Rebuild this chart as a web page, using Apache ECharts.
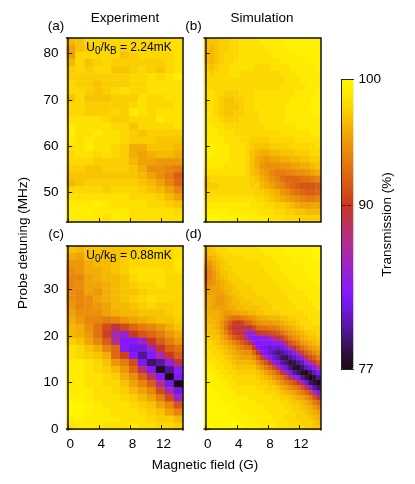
<!DOCTYPE html>
<html><head><meta charset="utf-8">
<style>html,body{margin:0;padding:0;background:#fff}#c{width:415px;height:484px}</style>
<script src="https://cdn.jsdelivr.net/npm/echarts@6/dist/echarts.min.js"></script>
</head><body><div id="c"></div>
<script>
const fieldTicks=[0,4,8,12];
const detuningTicksHigh=[50,60,70,80];
const detuningTicksLow=[0,10,20,30];
const colorbarTicks=[77,90,100];
const colorScale=['#1a0a10','#2a0f30','#3c1460','#4f1690','#6216bc','#7418e4','#8518ff','#8f1ee8','#9a24cc','#a52ab0','#b03090','#b83070','#c03448','#c83820','#d24c18','#da5e14','#e27210','#e8860c','#ed9808','#f2ae04','#f8c400','#fcd800','#ffea00','#fff600'];
const expHigh=[
[96.5,97,98,98,98,98,98,98,98,98,98,98.5,98.5],
[95.5,97,97.5,98,98,98,97.5,98,98,98,98,98.5,98.5],
[95.5,98,98,98,98,98,97,97.5,98,98,98,98,98.5],
[96.5,98,97,97.5,98,97.5,97.5,97.5,97.5,97.5,97.5,98,98.5],
[97.5,98,97.5,98,98,97,97,97.5,98,97.5,97,98,98.5],
[97.5,97.5,97.5,97.5,97.5,97.5,97.5,98,98,98.5,98,98.5,99.5],
[98,97.5,97.5,97,97.5,97.5,97.5,98,98,98.5,98.5,98.5,98.5],
[98,98,97.5,97,97.5,98,98.5,98,98,98.5,98.5,98.5,98.5],
[97,98,97,97,97,97.5,97.5,97.5,98.5,98,98,98.5,98.5],
[98,98,97.5,97.5,97.5,97.5,97.5,98,98.5,98,98,98,98.5],
[98,98,97.5,97.5,97.5,98,97.5,99,98.5,98,98.5,98.5,98.5],
[98.5,98.5,98.5,98.5,98,97.5,97.5,98,98,98,99,98.5,98.5],
[99,98.5,98.5,98.5,98.5,98,98,97,98,98,98,98,98.5],
[99.5,98.5,98.5,99,98.5,98.5,98,97.5,97,97.5,97.5,97.5,97.5],
[99,98.5,99,98.5,98.5,98.5,98,97.5,97.5,97.5,97,97,97],
[98.5,98.5,99,98.5,98.5,98,97.5,96,96,97,97,97,96.5],
[98,98.5,98.5,98,98.5,98,97.5,96,95.5,96,96.5,96.5,96],
[98,98,98,97.5,97.5,97.5,97.5,96.5,95.5,95.5,95,95,95],
[97.5,97.5,97,97,97.5,97.5,97.5,97,96,94.5,94.5,94,93.5],
[97,97,97,97,97,97,97,97,96.5,95.5,94.5,93.5,92],
[96.5,97,97.5,97.5,97.5,97.5,97.5,97.5,97,96.5,95.5,94,92.5],
[98,98,98,98,97.5,98,98,98,97.5,97,96.5,95.5,94],
[98.5,98.5,98.5,98.5,98.5,98.5,98.5,98,98,98,97.5,96.5,95.5],
[99,99,99,99.5,99,98.5,98.5,98.5,98.5,98,98,97.5,97],
[99.5,99.5,99.5,99,99,99,99,98.5,98.5,98.5,98.5,98.5,98],
[99,99,99,99,98.5,99.5,99,98.5,98.5,98.5,98.5,98.5,98.5]];
const expLow=[
[97,96.5,97,97,97,97,97,97.5,97.5,98,98,98,98.5],
[96,95.5,97,97,97,97,97.5,97.5,98,98,98,98,98.5],
[95,95,96,96.5,96.5,97,97.5,98,98,98,98,98,99],
[94.5,95,96,96,96.5,97,97.5,98.5,98.5,98.5,98.5,98,98.5],
[94,94,95.5,96,96.5,96.5,97,98,98.5,98.5,98.5,98,98],
[94,94.5,95.5,95.5,96,96.5,97,97.5,98,98,98.5,98,98],
[94.5,94,95.5,95,96,96.5,97,97,97.5,98,98,98,98],
[94.5,94,94.5,95.5,96,96.5,97,97.5,98,98.5,98,98,98],
[95,94,94.5,95,95.5,96.5,96.5,97,97.5,98,97.5,97.5,98],
[95.5,94.5,94.5,94.5,95.5,96,96.5,96.5,97,97,97,97.5,98],
[96,95,94,94,93.5,94,95,95.5,96,96.5,97,97,97.5],
[96.5,96,94.5,93,91,89,91,92.5,93.5,94,95,96,97],
[96.5,96,95,93,90.5,86,85,90,91.5,92.5,93.5,95,96],
[97.5,97,95.5,94,92,87,83,83,85,90,92,93.5,95],
[98.5,98,97,96,94,92.5,83,82,82,85,89.5,92,93],
[98.5,98,97.5,97,96,92.5,90.5,83,80,83,86,90,92],
[99,99,98.5,98,97,95,93.5,91,82.5,79,80.5,84,89],
[99,99,98.5,98,97.5,96.5,95,92.5,88,83,77.5,80,83.5],
[99,99,98.5,98.5,98,97.5,96,94.5,92,88.5,83,77,82.5],
[99,99,98.5,98.5,98,98,97,95.5,94,92,87,82.5,77],
[99,99,99,98.5,98.5,98,97.5,96.5,95.5,94,91,86,82],
[99.5,99.5,99,98.5,98.5,98.5,98,97.5,96.5,95.5,93.5,91,85],
[100,100,99.5,99,98.5,98.5,98.5,98,97.5,97,95.5,94,91.5],
[100,100,99.5,99,99,98.5,98.5,98.5,98,97.5,97,95.5,94],
[99,99.5,99,99,99,99,98.5,98.5,98.5,98,97.5,97.5,96.5],
[98.5,99,99,99,98.5,98.5,98.5,99,98.5,98.5,98,98,97.5]];
const simHigh=[
[97,97,97,97.5,97.5,98,98,98.5,98.5,98.5,98.5,99,99,99,99,99.5,99.5,99.5,99.5,99.5,99.5,99.5,99.5],
[97,96.5,97,97.5,97.5,98,98,98.5,98.5,98.5,98.5,98.5,99,99,99,99,99.5,99.5,99.5,99.5,99.5,99.5,99.5],
[97,96.5,97,97.5,98,98,98,98.5,98.5,98.5,98.5,98.5,98.5,99,99,99,99,99,99.5,99.5,99.5,99.5,99.5],
[97,96.5,97,97.5,98,98,98.5,98.5,98.5,98.5,98.5,98.5,98.5,98.5,98.5,99,99,99,99,99,99.5,99.5,99.5],
[97.5,97,97.5,98,98,98.5,98.5,98.5,98.5,98.5,98,98,98,98.5,98.5,98.5,98.5,99,99,99,99,99,99.5],
[98,97.5,98,98,98,98.5,98.5,98,98,98,98,98,98,98,98,98.5,98.5,98.5,99,99,99,99,99],
[98,98,98,98,98,98,98,98,98,98,98,98,98,98,98,98,98.5,98.5,98.5,99,99,99,99],
[98.5,98,98,98,98,98,98,98,98,98,98,98,98,98,98,98.5,98.5,98.5,98.5,98.5,99,99,99],
[98.5,98.5,98,98,97.5,97.5,97.5,98,98,98,98.5,98.5,98.5,98.5,98.5,98.5,98.5,98.5,99,99,99,99,99.5],
[98.5,98.5,98,97.5,97,97,97.5,97.5,98,98,98.5,98.5,98.5,98.5,98.5,98.5,98.5,99,99,99,99,99.5,99.5],
[98.5,98.5,98,97.5,97,97,97,97.5,98,98,98.5,98.5,98.5,98.5,98.5,98.5,99,99,99,99,99,99.5,99.5],
[99,98.5,98,97.5,97,97,97.5,97.5,98,98,98,98.5,98.5,98.5,98.5,98.5,99,99,99,99,99,99,99.5],
[99,98.5,98.5,98,97.5,97.5,97.5,98,98,98,98,98.5,98.5,98.5,98.5,98.5,99,99,99,99,99,99,99],
[99,99,98.5,98.5,98,98,98,98,98,98,98,98,98.5,98.5,98.5,98.5,98.5,98.5,99,99,99,99,99],
[99,99,99,98.5,98.5,98.5,98,98,98,98,98,98,98,98,98,98.5,98.5,98.5,98.5,98.5,98.5,99,99],
[99.5,99,99,99,98.5,98.5,98.5,98,98,97.5,97.5,97.5,97.5,98,98,98,98,98,98.5,98.5,98.5,98.5,98.5],
[99.5,99.5,99,99,99,98.5,98.5,98.5,98,97.5,97,97,97,97.5,97.5,97.5,97.5,98,98,98,98,98,98.5],
[99.5,99.5,99,99,99,98.5,98.5,98.5,98,97,96.5,96,96,96.5,96.5,97,97,97,97.5,97.5,97.5,98,98],
[99.5,99,99,99,99,98.5,98.5,98.5,98,97,96,95.5,95,95.5,95.5,96,96,96.5,96.5,97,97,97.5,97.5],
[99,99,99,99,98.5,98.5,98.5,98.5,98,97,96,95,94.5,94.5,94.5,95,95,95.5,95.5,96,96,96.5,97],
[98.5,98.5,98.5,98.5,98.5,98.5,98.5,98.5,98,97,96.5,95.5,95,94,93.5,93.5,94,94,94.5,94.5,95,95.5,96],
[97.5,98,98,98,98,98,98,98,98,97.5,97,96,95.5,94.5,94,93,92.5,92.5,92.5,93,93,93.5,94],
[97,97.5,97.5,98,98,98,98,98,98,97.5,97.5,96.5,96,95.5,94.5,94,93,92.5,92,91.5,91.5,91.5,92],
[98,98,98,98,98,98,98,98,98,98,97.5,97.5,97,96.5,96,95,94.5,93.5,93,92.5,92,92,92.5],
[98.5,98.5,98.5,98.5,98.5,98.5,98.5,98.5,98.5,98.5,98,98,97.5,97,96.5,96,95.5,95,94.5,94,93.5,93.5,94],
[99,99,99,99,99,99,99,99,99,98.5,98.5,98.5,98,98,97.5,97.5,97,96.5,96,95.5,95.5,95.5,95.5],
[99.5,99.5,99.5,99.5,99.5,99,99,99,99,99,99,98.5,98.5,98.5,98,98,97.5,97.5,97,97,96.5,96.5,96.5],
[100,100,100,99.5,99.5,99.5,99.5,99.5,99.5,99,99,99,99,98.5,98.5,98.5,98,98,98,97.5,97.5,97.5,97.5]];
const simLow=[
[97,97,97.5,98,98,98,98.5,98.5,98.5,98.5,98.5,98.5,98.5,98.5,99,99,99,99,99,99.5,99.5,99.5,99.5,99.5,99.5,99.5,100,100,100],
[96.5,97,97,97.5,98,98,98,98.5,98.5,98.5,98.5,98.5,98.5,98.5,98.5,99,99,99,99,99,99.5,99.5,99.5,99.5,99.5,99.5,99.5,100,100],
[96,96,96.5,97,97.5,98,98,98,98,98,98.5,98.5,98.5,98.5,98.5,98.5,98.5,99,99,99,99,99,99.5,99.5,99.5,99.5,99.5,100,100],
[95,95,96,96.5,97,97.5,98,98,98,98,98,98,98,98,98.5,98.5,98.5,98.5,99,99,99,99,99,99,99.5,99.5,99.5,99.5,99.5],
[94,94.5,95.5,96.5,97,97.5,97.5,98,98,98,98,98,98,98,98,98.5,98.5,98.5,98.5,99,99,99,99,99,99,99.5,99.5,99.5,99.5],
[93.5,94,95,96,97,97,97.5,97.5,98,98,98,98,98,98,98,98,98.5,98.5,98.5,98.5,99,99,99,99,99,99,99.5,99.5,99.5],
[93.5,94,95,96,96.5,97,97.5,97.5,97.5,98,98,98,98,98,98,98,98,98.5,98.5,98.5,98.5,99,99,99,99,99,99.5,99.5,99.5],
[94,94.5,95,95.5,96,96.5,97,97.5,97.5,97.5,98,98,98,98,98,98,98,98,98.5,98.5,98.5,98.5,99,99,99,99,99,99,99.5],
[95,95,95.5,95.5,96,96.5,96.5,97,97.5,97.5,97.5,97.5,98,98,98,98,98,98,98,98.5,98.5,98.5,98.5,99,99,99,99,99,99],
[95.5,95.5,95.5,95.5,95.5,96,96.5,97,97,97.5,97.5,97.5,97.5,98,98,98,98,98,98,98,98.5,98.5,98.5,98.5,98.5,99,99,99,99],
[96,96,95.5,95,95,95.5,96,96.5,97,97,97.5,97.5,97.5,97.5,97.5,98,98,98,98,98,98,98.5,98.5,98.5,98.5,98.5,99,99,99],
[96,96,95.5,95,95,95.5,96,96.5,96.5,97,97,97,97.5,97.5,97.5,97.5,98,98,98,98,98,98,98.5,98.5,98.5,98.5,98.5,99,99],
[96,96,95.5,95.5,95.5,95.5,96,96,96.5,96.5,97,97,97,97,97.5,97.5,97.5,98,98,98,98,98,98,98.5,98.5,98.5,98.5,98.5,99],
[96.5,96,96,96,95.5,95,95,95.5,95.5,96,96,96.5,96.5,97,97,97.5,97.5,97.5,97.5,98,98,98,98,98,98,98.5,98.5,98.5,98.5],
[96.5,96.5,96,96,95.5,94.5,93.5,93,93,93.5,94,94.5,95,95.5,96,96,96.5,96.5,96.5,97,97,97.5,97.5,98,98,98,98.5,98.5,98.5],
[97,96.5,96.5,96,95,93.5,92,90.5,90,90.5,92,92.5,93.5,94.5,95,95,95,95.5,95.5,96,96.5,97,97,97.5,98,98,98,98.5,98.5],
[97,97,96.5,96,95,93,91,89.5,89,89.5,88.5,90,91,92.5,93,93,93.5,93.5,94,95,95.5,96,96.5,97,97.5,98,98,98,98],
[97.5,97,97,96.5,95.5,94,92,90.5,89.5,89.5,85.5,84.5,85.5,90,90.5,90.5,91,91.5,92,93,94,95,95.5,96,96.5,97,97.5,97.5,98],
[98,97.5,97,97,96,95,93.5,92,91,90.5,87,84,83.5,83.5,84.5,84.5,86,87.5,89,90.5,92,93.5,94.5,95,96,96.5,97,97,97.5],
[98,98,97.5,97,96.5,96,95,94,93,92,91,89,83.5,83,83,83,83,83.5,84,84.5,89.5,91.5,92.5,93.5,95,95.5,96,96.5,97],
[98.5,98,98,97.5,97,96.5,96,95.5,94.5,93.5,93,92.5,90,83.5,82.5,82,81.5,82,81.5,82,83,87,90,91.5,93,94,95,95.5,96],
[98.5,98.5,98,98,97.5,97,96.5,96,95.5,95,94.5,94.5,92.5,90,83.5,82.5,81.5,80.5,79.5,80,81,82,84,87.5,90.5,92,93,94,95],
[99,98.5,98.5,98,98,97.5,97,96.5,96,95.5,95.5,95.5,94.5,92.5,90.5,85.5,83,81.5,80.5,79,78.5,80,81,82.5,84.5,88.5,91,92,93.5],
[99,99,98.5,98.5,98,98,97.5,97,96.5,96.5,96.5,96.5,96,94.5,93,91.5,89,84,82.5,80.5,79.5,78,78.5,80,81,84,85.5,90,91.5],
[99.5,99,99,98.5,98.5,98,98,97.5,97,97,97,97,97,96,95,93.5,92.5,91,87.5,83,81.5,79.5,78,77.5,79,81,82,83.5,87],
[99.5,99.5,99,99,98.5,98.5,98,98,97.5,97.5,97.5,97.5,97.5,97,96.5,95.5,94.5,93.5,92,90,85.5,82.5,80.5,79,77.5,77,79,81,82.5],
[99.5,99.5,99.5,99,99,98.5,98.5,98,98,98,98,98,98,97.5,97,96.5,96,95,94,93,91.5,89,85,83,80,78.5,77,78,80],
[100,99.5,99.5,99.5,99,99,98.5,98.5,98,98,98,98,98,98,97.5,97.5,97,96.5,95.5,94.5,93.5,92.5,91.5,90,85,82,79,78,77],
[100,100,99.5,99.5,99.5,99,99,98.5,98.5,98.5,98.5,98.5,98.5,98,98,98,97.5,97.5,97,96,95.5,94.5,93.5,93,91.5,89.5,83.5,80.5,79],
[100,100,100,99.5,99.5,99.5,99,99,98.5,98.5,98.5,98.5,98.5,98.5,98.5,98,98,98,97.5,97,96.5,96,95.5,94.5,93.5,92.5,91,86,83],
[100,100,100,100,99.5,99.5,99.5,99,99,99,99,98.5,98.5,98.5,98.5,98.5,98.5,98,98,97.5,97.5,97,96.5,96,95.5,94.5,93.5,91.5,89.5],
[100,100,100,100,100,99.5,99.5,99.5,99,99,99,99,99,98.5,98.5,98.5,98.5,98.5,98.5,98,98,97.5,97,97,96.5,96,95,93.5,92.5],
[100,100,100,100,100,100,99.5,99.5,99.5,99,99,99,99,99,99,98.5,98.5,98.5,98.5,98.5,98,98,97.5,97.5,97,96.5,96,95,94],
[100,100,100,100,100,100,100,99.5,99.5,99.5,99.5,99,99,99,99,99,98.5,98.5,98.5,98.5,98.5,98,98,97.5,97.5,97,96.5,96,95.5],
[100,100,100,100,100,100,100,100,99.5,99.5,99.5,99.5,99,99,99,99,99,98.5,98.5,98.5,98,98,98,97.5,97.5,97.5,97,96.5,96],
[100,100,100,100,100,100,100,100,100,99.5,99.5,99.5,99.5,99,99,99,99,99,98.5,98.5,98.5,98,98,98,97.5,97.5,97.5,97,96.5],
[100,100,100,100,100,100,100,100,100,100,99.5,99.5,99.5,99.5,99,99,99,99,98.5,98.5,98.5,98,98,98,98,97.5,97.5,97,97]];

const font='"Liberation Sans"';
const FS=13.5;
const panels=[
 {rows:expHigh,left:66.5,top:38,ticks:detuningTicksHigh,ymin:43.7,ymax:83.3,yLabels:true,xLabels:false},
 {rows:simHigh,left:204,top:38,ticks:detuningTicksHigh,ymin:43.7,ymax:83.3,yLabels:false,xLabels:false},
 {rows:expLow,left:66.5,top:246,ticks:detuningTicksLow,ymin:-0.2,ymax:39.3,yLabels:true,xLabels:true},
 {rows:simLow,left:204,top:246,ticks:detuningTicksLow,ymin:-0.2,ymax:39.3,yLabels:false,xLabels:true}
];
const grid=[],xAxis=[],yAxis=[],series=[];
const line={show:true,lineStyle:{color:'#111',width:1.5}};
panels.forEach((p,g)=>{
 grid.push({left:p.left,top:p.top,width:116.5,height:184,show:false});
 const nr=p.rows.length;
 xAxis.push({type:'category',gridIndex:g,show:false,data:p.rows[0].map((_,i)=>i)});
 yAxis.push({type:'category',gridIndex:g,show:false,data:p.rows.map((_,i)=>i)});
 xAxis.push({type:'value',gridIndex:g,position:'bottom',min:-0.22,max:14.75,z:6,axisLine:line,splitLine:{show:false},
  axisTick:{show:true,inside:true,length:4,customValues:fieldTicks,lineStyle:{color:'#222',width:1}},
  axisLabel:{show:p.xLabels,customValues:fieldTicks,margin:7,fontFamily:font,fontSize:FS,color:'#000',padding:[0,0,0,4]}});
 xAxis.push({type:'value',gridIndex:g,position:'top',min:-0.22,max:14.75,z:6,axisLine:line,splitLine:{show:false},axisTick:{show:false},axisLabel:{show:false}});
 yAxis.push({type:'value',gridIndex:g,position:'left',min:p.ymin,max:p.ymax,z:6,axisLine:line,splitLine:{show:false},
  axisTick:{show:true,inside:true,length:4,customValues:p.ticks,lineStyle:{color:'#222',width:1}},
  axisLabel:{show:p.yLabels,customValues:p.ticks,margin:8,fontFamily:font,fontSize:FS,color:'#000'}});
 yAxis.push({type:'value',gridIndex:g,position:'right',min:p.ymin,max:p.ymax,z:6,axisLine:line,splitLine:{show:false},axisTick:{show:false},axisLabel:{show:false}});
 const data=[];
 p.rows.forEach((row,r)=>row.forEach((v,c)=>data.push([c,nr-1-r,v])));
 series.push({type:'heatmap',xAxisIndex:g*3,yAxisIndex:g*3,data,progressive:0,emphasis:{disabled:true},itemStyle:{borderWidth:0}});
});
// colour-bar frame and scale
const cb={left:341.5,top:79.5,width:12,height:290};
grid.push(Object.assign({show:false},cb));
const thin={show:true,lineStyle:{color:'#222',width:1}};
xAxis.push({type:'value',gridIndex:4,position:'bottom',min:0,max:1,z:6,axisLine:thin,axisTick:{show:false},axisLabel:{show:false},splitLine:{show:false}});
xAxis.push({type:'value',gridIndex:4,position:'top',min:0,max:1,z:6,axisLine:thin,axisTick:{show:false},axisLabel:{show:false},splitLine:{show:false}});
yAxis.push({type:'value',gridIndex:4,position:'left',min:77,max:100,z:6,axisLine:thin,splitLine:{show:false},axisLabel:{show:false},
 axisTick:{show:true,inside:true,length:12,customValues:[90],lineStyle:{color:'#5a1a10',width:1,type:'dashed'}}});
yAxis.push({type:'value',gridIndex:4,position:'right',min:77,max:100,z:6,axisLine:thin,splitLine:{show:false},axisTick:{show:false},
 axisLabel:{show:true,customValues:colorbarTicks,margin:5,fontFamily:font,fontSize:FS,color:'#000'}});

const txt=(x,y,text,extra)=>({type:'text',x,y,style:Object.assign({text,fontFamily:font,fontSize:FS,fill:'#000',align:'center',verticalAlign:'middle'},extra||{})});
const rich={a:{fontFamily:font,fontSize:12,color:'#000'},s:{fontFamily:font,fontSize:10,color:'#000',padding:[7,0,0,0]}};
const anno=(x,y,val)=>({type:'text',x,y,z:20,style:{text:'{a|U}{s|0}{a|/k}{s|B}{a| = '+val+'}',rich,align:'center',verticalAlign:'middle',fontFamily:font,fontSize:12,fill:'#000'}});
const graphic=[
 txt(125,18,'Experiment'),txt(262,18,'Simulation'),
 txt(56,26,'(a)'),txt(193.5,26,'(b)'),txt(56,234.5,'(c)'),txt(193.5,234.5,'(d)'),
 Object.assign(txt(23,243,'Probe detuning (MHz)'),{rotation:Math.PI/2}),
 txt(205,465,'Magnetic field (G)'),
 Object.assign(txt(387,224.5,'Transmission (%)'),{rotation:Math.PI/2}),
 anno(129,48,'2.24mK'),anno(129,256,'0.88mK')
];
const chart=echarts.init(document.getElementById('c'),null,{renderer:'canvas'});
chart.setOption({animation:false,backgroundColor:'#fff',grid,xAxis,yAxis,series,graphic,
 visualMap:{type:'continuous',min:77,max:100,dimension:2,calculable:false,show:true,left:cb.left,top:cb.top,itemWidth:cb.width,itemHeight:cb.height,text:['',''],showLabel:false,textGap:0,padding:0,z:2,inRange:{color:colorScale},hoverLink:false}
});
</script></body></html>
